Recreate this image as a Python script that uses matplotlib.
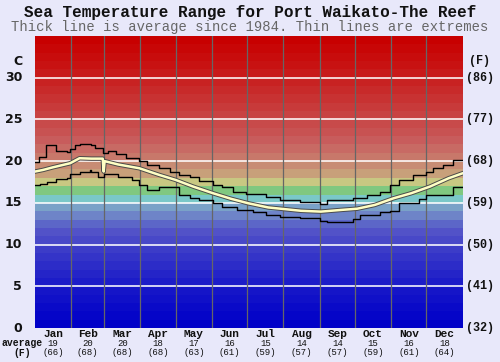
import matplotlib
matplotlib.use("Agg")
import matplotlib.pyplot as plt
import matplotlib.patheffects as pe

# ---- data ----
month_names = ['Jan', 'Feb', 'Mar', 'Apr', 'May', 'Jun',
               'Jul', 'Aug', 'Sep', 'Oct', 'Nov', 'Dec']
month_start = [0, 31, 59, 90, 120, 151, 181, 212, 243, 273, 304, 334, 365]
avg_c = [19, 20, 20, 18, 17, 16, 15, 14, 14, 15, 16, 18]
avg_f = [66, 68, 68, 68, 63, 61, 59, 57, 57, 59, 61, 64]

c_ticks = [0, 5, 10, 15, 20, 25, 30]
f_labels = ['(32)', '(41)', '(50)', '(59)', '(68)', '(77)', '(86)']

# max extremes (day of year, degC), drawn as steps
max_day = [0, 3, 9, 18, 27, 30, 34, 38, 48, 51, 58, 62, 69, 78, 89, 96, 106,
           115, 123, 132, 140, 152, 160, 169, 180, 197, 209, 226, 243, 249,
           271, 283, 294, 303, 311, 323, 334, 340, 348, 357, 365]
max_val = [19.95, 20.55, 21.9, 21.2, 21.1, 21.4, 21.9, 22.05, 21.9, 21.55,
           21.0, 21.2, 20.85, 20.35, 20.0, 19.55, 19.15, 18.75, 18.35, 18.05,
           17.65, 17.2, 16.85, 16.35, 16.05, 15.75, 15.35, 15.1, 14.9, 15.35,
           15.6, 15.9, 16.35, 17.2, 17.75, 18.35, 18.75, 19.15, 19.55, 20.15,
           20.15]

# min extremes
min_day = [0, 4, 10, 18, 27, 30, 38, 47, 48, 54, 59, 71, 83, 89, 96, 106,
           123, 132, 140, 152, 160, 172, 186, 197, 209, 226, 243, 249, 271,
           277, 294, 303, 311, 328, 334, 357, 365]
min_val = [17.1, 17.25, 17.55, 17.8, 18.0, 18.45, 18.7, 18.95, 18.7, 18.15,
           18.45, 18.15, 17.75, 17.15, 16.55, 16.85, 15.95, 15.55, 15.35,
           14.95, 14.45, 14.15, 13.9, 13.55, 13.25, 13.15, 12.8, 12.7, 13.1,
           13.55, 13.9, 14.05, 14.95, 15.45, 15.95, 16.85, 16.85]

# average since 1984
avg_day = [0, 7, 15, 30, 38, 48, 57.8, 58.6, 59.4, 71, 89, 106, 120, 135, 152,
           167, 182, 199, 213, 227, 244, 261, 275, 290, 306, 321, 337, 353, 365]
avg_val = [18.75, 18.95, 19.25, 19.75, 20.35, 20.3, 20.3, 18.75, 20.0, 19.6,
           19.15, 18.35, 17.75, 16.95, 16.15, 15.5, 14.95, 14.45, 14.25, 14.05,
           13.95, 14.15, 14.3, 14.75, 15.55, 16.15, 16.95, 17.95, 18.55]

# one colour band per degree, 0..35
band_colors = ['#0000c8', '#0505c8', '#0a0ac8', '#1010c8', '#1515c8',
               '#1c1cc8', '#2424c8', '#2c2cc8', '#3434c8', '#3c3cc8',
               '#4848c8', '#5252c8', '#5c66c8', '#6e84c8', '#7aa2c8',
               '#7ac8c8', '#80c880', '#c8c882', '#c8a07a', '#c88c74',
               '#c8786a', '#c86a64', '#c85c5c', '#c85252', '#c84a4a',
               '#c84242', '#c83a3a', '#c83232', '#c82a2a', '#c82222',
               '#c81a1a', '#c81212', '#c80c0c', '#c80606', '#c80000']

bg = '#e8e8fa'
mono = 'Liberation Mono'

fig = plt.figure(figsize=(5.0, 3.62), dpi=100, facecolor=bg)
ax = fig.add_axes([35 / 500, 34 / 362, 427.7 / 500, 292 / 362])
ax.set_xlim(0, 365)
ax.set_ylim(0, 35)
for s in ax.spines.values():
    s.set_visible(False)
ax.set_xticks([])
ax.set_yticks([])

for i, col in enumerate(band_colors):
    ax.axhspan(i, i + 1, color=col, lw=0, zorder=0)

for t in c_ticks[1:]:
    ax.axhline(t, color='white', lw=1.2, alpha=0.95, zorder=1)
for d in month_start[1:-1]:
    ax.axvline(d, color='#666666', lw=0.9, zorder=1)

ax.step(max_day, max_val, where='post', color='black', lw=1.0, zorder=3)
ax.step(min_day, min_val, where='post', color='black', lw=1.0, zorder=3)
ax.plot(avg_day, avg_val, color='#ffffc4', lw=1.8, zorder=4,
        path_effects=[pe.Stroke(linewidth=3.2, foreground='#4a4a4a'), pe.Normal()])

# axis labels
ytr = ax.get_yaxis_transform()
for t, fl in zip(c_ticks, f_labels):
    ax.text(-0.03, t, str(t), transform=ytr, ha='right', va='center',
            fontsize=9, fontweight='bold', color='#111111')
    ax.text(1.040, t, fl, transform=ytr, ha='center', va='center',
            fontsize=8.5, fontweight='bold', family=mono, color='#111111')
ax.text(-0.03, 32, 'C', transform=ytr, ha='right', va='center',
        fontsize=9, fontweight='bold', color='#111111')
ax.text(1.040, 32, '(F)', transform=ytr, ha='center', va='center',
        fontsize=8.5, fontweight='bold', family=mono, color='#111111')

# bottom table
xtr = ax.get_xaxis_transform()
for i, name in enumerate(month_names):
    mid = (month_start[i] + month_start[i + 1]) / 2
    ax.text(mid, -0.019, name, transform=xtr, ha='center', va='center',
            fontsize=8, fontweight='bold', family=mono, color='#111111')
    ax.text(mid, -0.053, str(avg_c[i]), transform=xtr, ha='center', va='center',
            fontsize=6.5, family=mono, color='#111111')
    ax.text(mid, -0.084, '(%d)' % avg_f[i], transform=xtr, ha='center',
            va='center', fontsize=6.5, family=mono, color='#111111')
fig.text(22.5 / 500, 1 - 343.5 / 362, 'average', ha='center', va='center',
         fontsize=7, fontweight='bold', family=mono, color='#111111')
fig.text(22.5 / 500, 1 - 352.5 / 362, '(F)', ha='center', va='center',
         fontsize=7, fontweight='bold', family=mono, color='#111111')

fig.text(0.5, 1 - 12.5 / 362, 'Sea Temperature Range for Port Waikato-The Reef',
         ha='center', va='center', fontsize=11.5, fontweight='bold',
         family=mono, color='#111111')
fig.text(0.5, 1 - 27.5 / 362,
         'Thick line is average since 1984. Thin lines are extremes',
         ha='center', va='center', fontsize=10, family=mono, color='#666666')

fig.savefig('out.png', dpi=100, facecolor=bg)
